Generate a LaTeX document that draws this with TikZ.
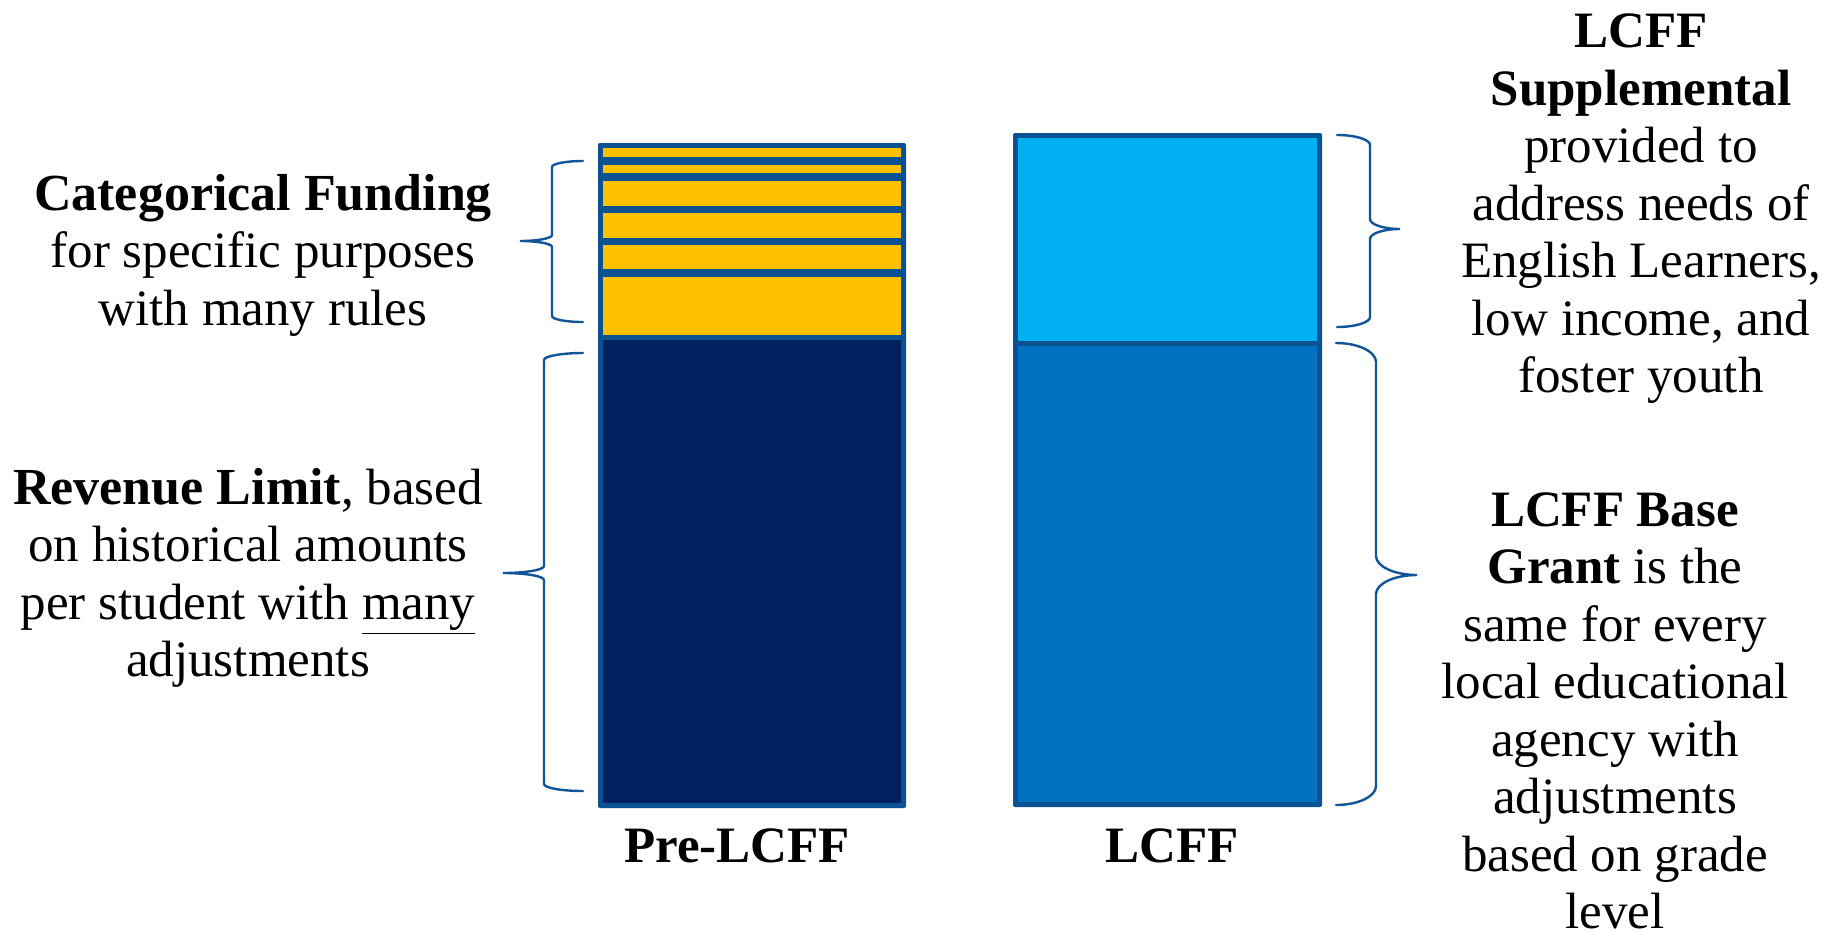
\documentclass[tikz,border=0pt]{standalone}
\usepackage{fontspec}
\setmainfont{Liberation Serif}
\definecolor{edge}{RGB}{10,82,146}
\definecolor{gold}{HTML}{FFC000}
\definecolor{navy}{HTML}{002060}
\definecolor{sky}{HTML}{00B0F0}
\definecolor{basebl}{HTML}{0070C0}
\definecolor{brc}{RGB}{16,84,154}
% left-facing brace: #1 end x, #2 spine x, #3 tip x, #4 top y, #5 mid y, #6 bottom y, #7 corner radius
\newcommand\myLbrace[7]{%
  \draw[bracestyle] (#1,#4) .. controls ({#2+0.45*(#1-#2)},#4) and (#2,{#4+0.45*#7}) .. (#2,{#4+#7})
    -- (#2,{#5-#7}) .. controls (#2,{#5-0.45*#7}) and ({#3+0.55*(#2-#3)},#5) .. (#3,#5)
    .. controls ({#3+0.55*(#2-#3)},#5) and (#2,{#5+0.45*#7}) .. (#2,{#5+#7})
    -- (#2,{#6-#7}) .. controls (#2,{#6-0.45*#7}) and ({#2+0.45*(#1-#2)},#6) .. (#1,#6);}
\newcommand\myul[1]{\underline{#1}}
\tikzset{
  bracestyle/.style={draw=brc, line width=1.2pt, line cap=round},
  lbl/.style={align=center, inner sep=0pt, font=\fontsize{25.5}{28.75}\selectfont},
}
\begin{document}
\begin{tikzpicture}[x=0.5pt,y=-0.5pt]
\useasboundingbox (0,0) rectangle (1825,932);
\fill[white] (0,0) rectangle (1825,932);
% Pre-LCFF bar
\fill[edge, rounded corners=1pt] (598,143) rectangle (906,808);
\foreach \a/\b in {148.3/157.3, 165/173.3, 181/205.7, 213.3/237.7, 245/269.3, 276.7/335}
  \fill[gold] (603,\a) rectangle (901,\b);
\fill[navy] (603,340) rectangle (901,803);
% LCFF bar
\fill[edge, rounded corners=1pt] (1013,133) rectangle (1322,807);
\fill[sky] (1018,138) rectangle (1317,340.5);
\fill[basebl] (1018,345.5) rectangle (1317,802);
% braces
\myLbrace{583}{552}{520}{161}{241}{322}{6}
\myLbrace{583}{544}{503}{353}{573}{791}{7}
% right-facing braces (tip to the right)
\myLbrace{1337}{1370}{1400}{135}{229}{327}{10}
\myLbrace{1336}{1376}{1417}{343}{575}{805}{19}
% texts
\node[lbl] (cat) at (263,255) {{\fontsize{26}{28.75}\selectfont\textbf{Categorical Funding}}\\for specific purposes\\with many rules};
\node[lbl] (rev) at (248,578) {{\fontsize{26}{28.75}\selectfont\textbf{Revenue Limit}}, based\\on historical amounts\\per student with \myul{many}\\adjustments};
\node[lbl] (sup) at (1641,209) {\textbf{LCFF}\\\textbf{Supplemental}\\provided to\\address needs of\\English Learners,\\low income, and\\foster youth};
\node[lbl] (bas) at (1615,711) {\textbf{LCFF Base}\\\textbf{Grant} is the\\same for every\\local educational\\agency with\\adjustments\\based on grade\\level};
\node[lbl, font=\fontsize{25.5}{28.75}\selectfont\bfseries] (pre) at (737,846) {Pre-LCFF};
\node[lbl, font=\fontsize{25.5}{28.75}\selectfont\bfseries] (lcff) at (1172,846) {LCFF};
\end{tikzpicture}
\end{document}
